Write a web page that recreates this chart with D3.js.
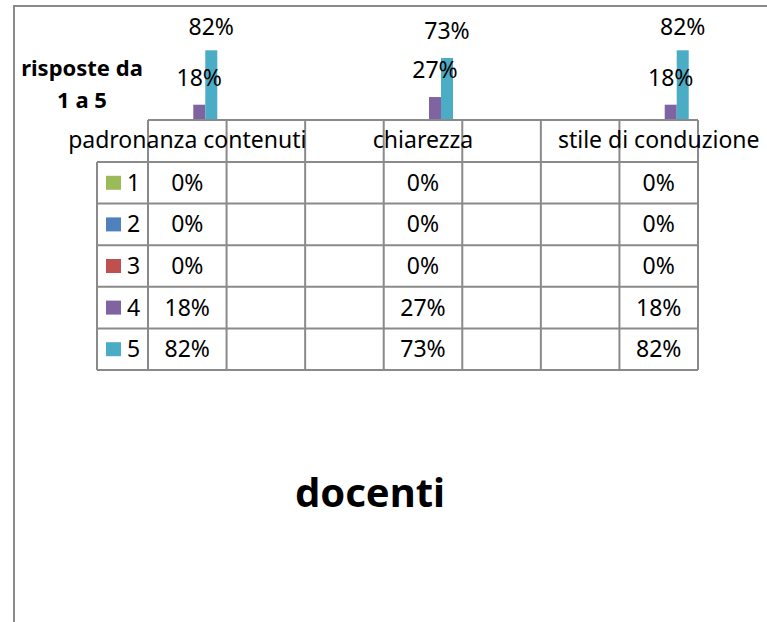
<!DOCTYPE html>
<html>
<head>
<meta charset="utf-8">
<script src="https://cdn.jsdelivr.net/npm/d3@7"></script>
<style>
    body { margin: 0; background: white; }
    text { font-family: "Noto Sans", "Open Sans", sans-serif; fill: black; }
</style>
</head>
<body>
<svg id="chart"></svg>
<script>

// categories (blank ones are empty columns in the original sheet)
const categories = ["padronanza contenuti", "", "", "chiarezza", "", "", "stile di conduzione"];

const series = ["1", "2", "3", "4", "5"];

const colors = ["#9bbb59", "#4f81bd", "#c0504d", "#8064a2", "#4bacc6"];

// values per series, one per category (null = empty column)
const s1 = [0, null, null, 0, null, null, 0];
const s2 = [0, null, null, 0, null, null, 0];
const s3 = [0, null, null, 0, null, null, 0];
const s4 = [0.18, null, null, 0.27, null, null, 0.18];
const s5 = [0.82, null, null, 0.73, null, null, 0.82];

const values = [s1, s2, s3, s4, s5];

const width = 767;
const height = 622;
const grid = "#8a8a8a";

const svg = d3.select("#chart")
    .attr("width", width)
    .attr("height", height);

// chart border (only left and top show in the picture)
svg.append("path")
    .attr("d", "M14,622 L14,6 L767,6")
    .attr("fill", "none")
    .attr("stroke", grid)
    .attr("stroke-width", 2);

const x = d3.scaleBand()
    .domain(d3.range(categories.length))
    .range([148, 698]);

const x1 = d3.scaleBand()
    .domain(series)
    .range([-30, 30]);

const y = d3.scaleLinear()
    .domain([0, 1])
    .range([120, 35]);

const fmt = d3.format(".0%");

// bars
const bars = [];
values.forEach((vals, si) =>
{
    vals.forEach((v, ci) =>
    {
        if (v !== null)
            bars.push({s: si, c: ci, v: v});
    });
});

svg.append("g")
    .selectAll("rect")
    .data(bars)
    .join("rect")
    .attr("x", d => x(d.c) + x.bandwidth() / 2 + x1(series[d.s]))
    .attr("y", d => y(d.v))
    .attr("width", x1.bandwidth())
    .attr("height", d => y(0) - y(d.v))
    .attr("fill", d => colors[d.s]);

// data labels, zero values hidden
svg.append("g")
    .selectAll("text")
    .data(bars.filter(d => d.v > 0))
    .join("text")
    .attr("x", d => x(d.c) + x.bandwidth() / 2 + x1(series[d.s]) + x1.bandwidth() / 2)
    .attr("y", d => Math.max(y(d.v) - 19, 35))
    .attr("text-anchor", "middle")
    .attr("font-size", 23)
    .text(d => fmt(d.v));

// data table
const rows = d3.scaleBand()
    .domain(series)
    .range([162, 370]);

const table = svg.append("g")
    .attr("stroke", grid)
    .attr("stroke-width", 2);

// header top line
table.append("line")
    .attr("x1", 148).attr("x2", 698)
    .attr("y1", 120).attr("y2", 120);

// row lines
table.selectAll(".hline")
    .data([162].concat(series.map(s => rows(s) + rows.bandwidth())))
    .join("line")
    .attr("class", "hline")
    .attr("x1", 97).attr("x2", 698)
    .attr("y1", d => d).attr("y2", d => d);

// column lines
table.selectAll(".vline")
    .data(d3.range(categories.length + 1))
    .join("line")
    .attr("class", "vline")
    .attr("x1", i => 148 + i * x.bandwidth())
    .attr("x2", i => 148 + i * x.bandwidth())
    .attr("y1", 120).attr("y2", 370);

table.append("line")
    .attr("x1", 97).attr("x2", 97)
    .attr("y1", 162).attr("y2", 370);

// category labels
svg.append("g")
    .selectAll("text")
    .data(categories)
    .join("text")
    .attr("x", (d, i) => x(i) + x.bandwidth() / 2)
    .attr("y", 148)
    .attr("text-anchor", "middle")
    .attr("font-size", 23)
    .text(d => d);

// legend keys
const keys = svg.append("g")
    .selectAll("g")
    .data(series)
    .join("g")
    .attr("transform", d => `translate(0,${rows(d) + rows.bandwidth() / 2})`);

keys.append("rect")
    .attr("x", 106)
    .attr("y", -7)
    .attr("width", 15)
    .attr("height", 14)
    .attr("fill", (d, i) => colors[i]);

keys.append("text")
    .attr("x", 127)
    .attr("y", 8)
    .attr("font-size", 23)
    .text(d => d);

// table cells
svg.append("g")
    .selectAll("text")
    .data(bars)
    .join("text")
    .attr("x", d => x(d.c) + x.bandwidth() / 2)
    .attr("y", d => rows(series[d.s]) + rows.bandwidth() / 2 + 8)
    .attr("text-anchor", "middle")
    .attr("font-size", 23)
    .text(d => fmt(d.v));

// axis title
const ytitle = svg.append("text")
    .attr("text-anchor", "middle")
    .attr("font-size", 22)
    .attr("font-weight", "bold");

ytitle.append("tspan").attr("x", 82).attr("y", 76).text("risposte da");
ytitle.append("tspan").attr("x", 82).attr("y", 108).text("1 a 5");

// chart title
svg.append("text")
    .attr("x", 370)
    .attr("y", 507)
    .attr("text-anchor", "middle")
    .attr("font-size", 40)
    .attr("font-weight", "bold")
    .text("docenti");

</script>
</body>
</html>
